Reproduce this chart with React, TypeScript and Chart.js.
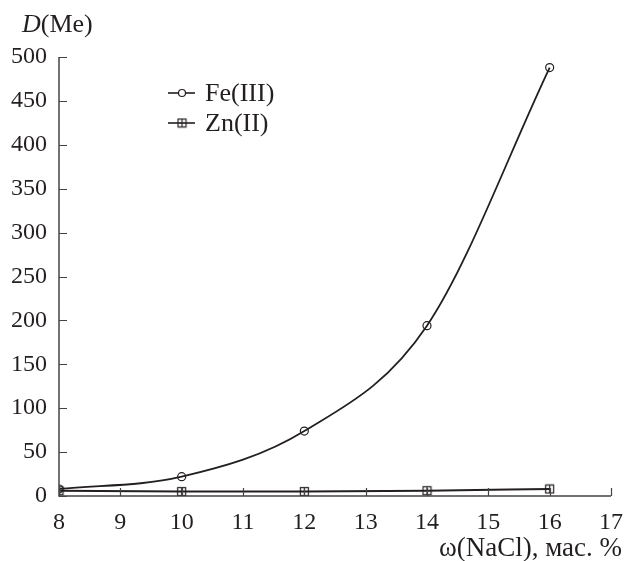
import React, { useEffect, useRef } from "react";
import { Chart, registerables } from "chart.js";

Chart.register(...registerables);

const xValues = [8, 10, 12, 14, 16];
const feValues = [8, 22, 74, 194, 488];
const znValues = [6, 5, 5, 6, 8];
const seriesLabels = ["Fe(III)", "Zn(II)"];
const yTitle = ["D", "(Me)"];
const xTitle = "ω(NaCl), мас. %";

const INK = "#231f20";
const FONT = "'Liberation Serif', 'Times New Roman', serif";

function makeSquareMarker(): HTMLCanvasElement {
  const c = document.createElement("canvas");
  c.width = 11;
  c.height = 11;
  const g = c.getContext("2d")!;
  g.strokeStyle = INK;
  g.lineWidth = 1.2;
  g.strokeRect(1.5, 1.5, 8, 8);
  g.beginPath();
  g.moveTo(5.5, 1.5);
  g.lineTo(5.5, 9.5);
  g.stroke();
  return c;
}

const decorPlugin = {
  id: "decor",
  afterDraw(chart: any) {
    const { ctx, chartArea, scales } = chart;
    const xs = scales.x;
    const ys = scales.y;
    ctx.save();
    ctx.strokeStyle = "#444";
    ctx.lineWidth = 1.5;
    ctx.beginPath();
    ctx.moveTo(chartArea.left, chartArea.top);
    ctx.lineTo(chartArea.left, chartArea.bottom);
    ctx.lineTo(chartArea.right, chartArea.bottom);
    ctx.stroke();
    ctx.lineWidth = 1.2;
    ctx.beginPath();
    ys.ticks.forEach((t: any, i: number) => {
      const py = Math.round(ys.getPixelForTick(i)) + 0.5;
      ctx.moveTo(chartArea.left, py);
      ctx.lineTo(chartArea.left + 8, py);
    });
    xs.ticks.forEach((t: any, i: number) => {
      const px = Math.round(xs.getPixelForTick(i)) + 0.5;
      ctx.moveTo(px, chartArea.bottom);
      ctx.lineTo(px, chartArea.bottom - 8);
    });
    ctx.stroke();

    ctx.fillStyle = INK;
    ctx.textBaseline = "middle";
    ctx.textAlign = "left";
    ctx.font = `italic 26px ${FONT}`;
    const dW = ctx.measureText(yTitle[0]).width;
    ctx.fillText(yTitle[0], 22, 25);
    ctx.font = `26px ${FONT}`;
    ctx.fillText(yTitle[1], 22 + dW, 25);
    ctx.font = `27px ${FONT}`;
    ctx.textAlign = "right";
    ctx.fillText(xTitle, 622, 549);

    const datasets = chart.data.datasets;
    const lx = 168;
    const ly0 = 93;
    datasets.forEach((ds: any, i: number) => {
      const ly = ly0 + i * 30;
      ctx.strokeStyle = INK;
      ctx.lineWidth = 1.6;
      ctx.beginPath();
      ctx.moveTo(lx, ly);
      ctx.lineTo(lx + 27, ly);
      ctx.stroke();
      ctx.lineWidth = 1.2;
      if (ds.pointStyle === "circle") {
        ctx.fillStyle = "#fff";
        ctx.beginPath();
        ctx.arc(lx + 14, ly, 3.5, 0, Math.PI * 2);
        ctx.fill();
        ctx.stroke();
      } else {
        const img = ds.pointStyle as HTMLCanvasElement;
        ctx.drawImage(img, lx + 14 - img.width / 2, ly - img.height / 2);
      }
      ctx.fillStyle = INK;
      ctx.textAlign = "left";
      ctx.font = `26px ${FONT}`;
      ctx.fillText(ds.label, lx + 37, ly + 1);
    });
    ctx.restore();
  },
};

export default function App() {
  const ref = useRef<HTMLCanvasElement>(null);
  useEffect(() => {
    if (!ref.current) return;
    const sq = makeSquareMarker();
    const chart = new Chart(ref.current, {
      type: "line",
      data: {
        datasets: [
          {
            label: seriesLabels[0],
            data: xValues.map((x, i) => ({ x, y: feValues[i] })),
            borderColor: INK,
            borderWidth: 1.8,
            backgroundColor: "transparent",
            pointStyle: "circle",
            pointRadius: 4,
            pointBorderWidth: 1.2,
            pointBorderColor: INK,
            pointBackgroundColor: "transparent",
            cubicInterpolationMode: "monotone",
          },
          {
            label: seriesLabels[1],
            data: xValues.map((x, i) => ({ x, y: znValues[i] })),
            borderColor: INK,
            borderWidth: 2,
            backgroundColor: "transparent",
            pointStyle: sq,
            pointRadius: 5,
            cubicInterpolationMode: "monotone",
          },
        ],
      },
      options: {
        animation: false,
        responsive: false,
        maintainAspectRatio: false,
        layout: { padding: { top: 57, right: 15, left: 0, bottom: 0 } },
        plugins: { legend: { display: false }, tooltip: { enabled: false } },
        scales: {
          x: {
            type: "linear",
            min: 8,
            max: 17,
            grid: { display: false },
            border: { display: false },
            ticks: {
              stepSize: 1,
              padding: 4,
              color: INK,
              font: { family: FONT, size: 24 },
              maxRotation: 0,
            },
            afterFit: (s: any) => {
              s.height = 65;
              s.paddingLeft = 0;
              s.paddingRight = 0;
            },
          },
          y: {
            min: 0,
            max: 500,
            grid: { display: false },
            border: { display: false },
            ticks: {
              stepSize: 50,
              padding: 4,
              color: INK,
              font: { family: FONT, size: 24 },
            },
            afterFit: (s: any) => {
              s.width = 59;
              s.paddingTop = 0;
              s.paddingBottom = 0;
            },
          },
        },
      },
      plugins: [decorPlugin],
    } as any);
    return () => chart.destroy();
  }, []);
  return (
    <div style={{ position: "absolute", left: 0, top: 0, width: 626, height: 561, background: "#fff" }}>
      <canvas ref={ref} width={626} height={561} style={{ width: 626, height: 561 }} />
    </div>
  );
}
